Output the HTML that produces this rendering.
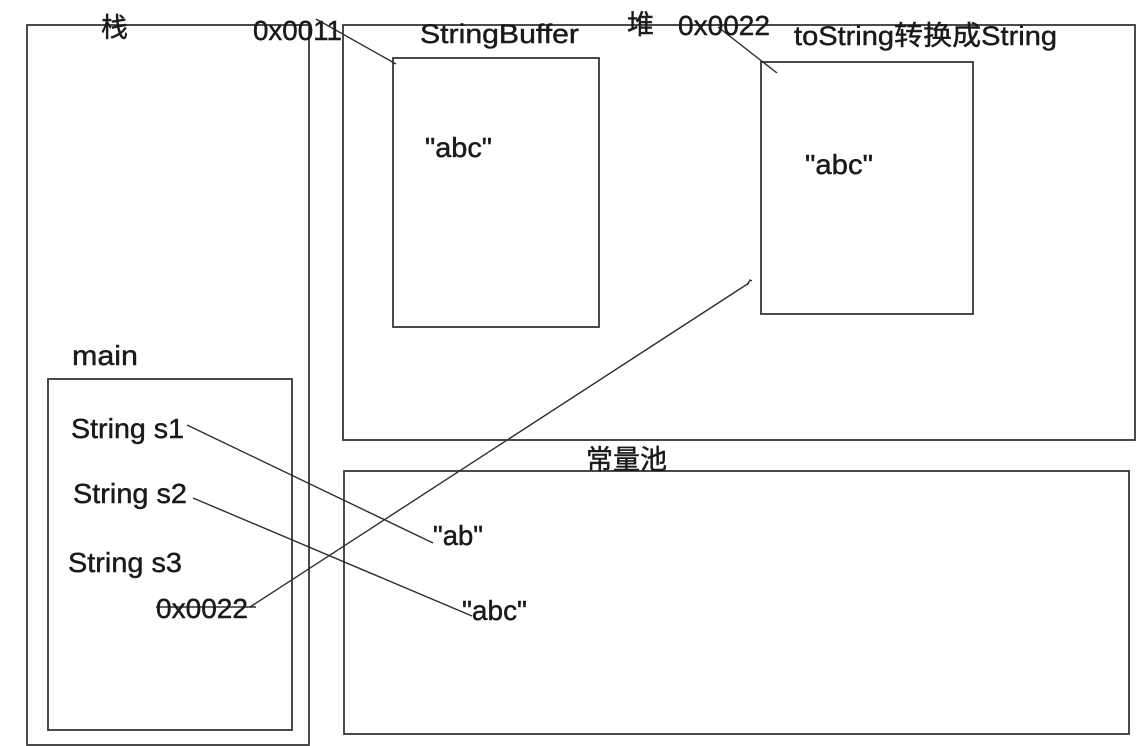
<!DOCTYPE html>
<html>
<head>
<meta charset="utf-8">
<style>
  html, body { margin: 0; padding: 0; background: #ffffff; }
  body { width: 1137px; height: 746px; overflow: hidden; }
  svg { display: block; }
  text { font-family: "Liberation Sans", "Noto Sans CJK SC", sans-serif; fill: #1a1a1a; stroke: #1a1a1a; stroke-width: 0.45; }
</style>
</head>
<body>
<svg width="1137" height="746" viewBox="0 0 1137 746" xmlns="http://www.w3.org/2000/svg">
  <rect x="0" y="0" width="1137" height="746" fill="#ffffff"/>
  <g fill="none" stroke="#363636" stroke-width="1.8">
    <!-- stack -->
    <rect x="27" y="25" width="282" height="720"/>
    <!-- heap -->
    <rect x="343" y="25" width="792" height="415"/>
    <!-- StringBuffer box -->
    <rect x="393" y="58" width="206" height="269"/>
    <!-- toString box -->
    <rect x="761" y="62" width="212" height="252"/>
    <!-- main frame -->
    <rect x="48" y="379" width="244" height="351"/>
    <!-- constant pool -->
    <rect x="344" y="471" width="785" height="263"/>
  </g>
  <g fill="none" stroke="#2e2e2e" stroke-width="1.4">
    <line x1="316" y1="19" x2="396" y2="64"/>
    <line x1="718" y1="27" x2="777" y2="73"/>
    <line x1="187" y1="425" x2="433" y2="543"/>
    <line x1="193" y1="498" x2="472" y2="616"/>
    <line x1="156" y1="607" x2="256" y2="607"/>
    <line x1="250" y1="607" x2="749" y2="283"/>
    <path d="M747 285 L750 280 L752 281"/>
  </g>
  <text x="101" y="37" font-size="27">栈</text>
  <text x="253" y="40" font-size="28" textLength="89" lengthAdjust="spacingAndGlyphs">0x0011</text>
  <text x="420" y="43" font-size="27" textLength="159" lengthAdjust="spacingAndGlyphs">StringBuffer</text>
  <text x="627" y="34" font-size="27">堆</text>
  <text x="678" y="35" font-size="28" textLength="92" lengthAdjust="spacingAndGlyphs">0x0022</text>
  <text x="794" y="45" font-size="27" textLength="263" lengthAdjust="spacingAndGlyphs">toString转换成String</text>
  <text x="425" y="157" font-size="28" textLength="67" lengthAdjust="spacingAndGlyphs">"abc"</text>
  <text x="805" y="174" font-size="28" textLength="68" lengthAdjust="spacingAndGlyphs">"abc"</text>
  <text x="72" y="365" font-size="28" textLength="66" lengthAdjust="spacingAndGlyphs">main</text>
  <text x="71" y="438" font-size="28" textLength="113" lengthAdjust="spacingAndGlyphs">String s1</text>
  <text x="73" y="503" font-size="28" textLength="114" lengthAdjust="spacingAndGlyphs">String s2</text>
  <text x="68" y="572" font-size="28" textLength="114" lengthAdjust="spacingAndGlyphs">String s3</text>
  <text x="156" y="618" font-size="28" textLength="92" lengthAdjust="spacingAndGlyphs">0x0022</text>
  <text x="586" y="469" font-size="27" textLength="81" lengthAdjust="spacingAndGlyphs">常量池</text>
  <text x="433" y="545" font-size="28" textLength="50" lengthAdjust="spacingAndGlyphs">"ab"</text>
  <text x="462" y="620" font-size="28" textLength="65" lengthAdjust="spacingAndGlyphs">"abc"</text>
</svg>
</body>
</html>
